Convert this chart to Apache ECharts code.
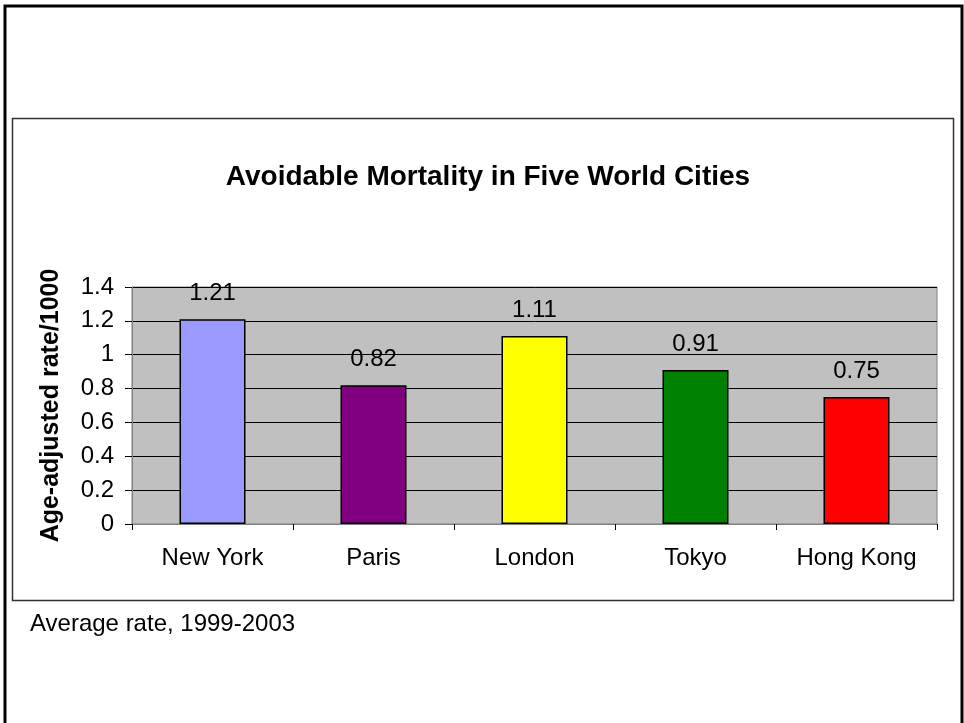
<!DOCTYPE html>
<html><head><meta charset="utf-8">
<script src="https://cdn.jsdelivr.net/npm/echarts@6/dist/echarts.min.js"></script>
<style>html,body{margin:0;padding:0;background:#fff}#c{width:964px;height:723px}</style>
</head><body><div id="c"></div>
<script>
const categories = ['New York', 'Paris', 'London', 'Tokyo', 'Hong Kong'];
const values = [1.21, 0.82, 1.11, 0.91, 0.75];
const barColors = ['#9999FF', '#800080', '#FFFF00', '#008000', '#FF0000'];
const yTicks = [0, 0.2, 0.4, 0.6, 0.8, 1, 1.2, 1.4];

const chart = echarts.init(document.getElementById('c'));
const font = 'Arial, "Liberation Sans", sans-serif';
chart.setOption({
  animation: false,
  backgroundColor: '#fff',
  title: {
    text: 'Avoidable Mortality in Five World Cities',
    left: 483, top: 158, textAlign: 'center',
    textStyle: { fontFamily: font, fontSize: 28, fontWeight: 'bold', color: '#000' }
  },
  graphic: [
    { type: 'rect', shape: { x: 5, y: 6, width: 957, height: 720 }, style: { fill: 'none', stroke: '#000', lineWidth: 3 }, z: 10 },
    { type: 'rect', shape: { x: 12.5, y: 118.5, width: 941, height: 482 }, style: { fill: 'none', stroke: '#333', lineWidth: 1.5 }, z: 10 },
    { type: 'text', left: 30, top: 612, style: { text: 'Average rate, 1999-2003', fontFamily: font, fontSize: 24, fill: '#000' } }
  ],
  grid: { left: 132, right: 27, top: 287, bottom: 199, show: true, backgroundColor: '#C0C0C0', borderColor: '#808080', borderWidth: 1 },
  xAxis: {
    type: 'category', data: categories,
    axisLine: { show: true, lineStyle: { color: '#808080' } },
    axisTick: { show: true, alignWithLabel: false, length: 6, lineStyle: { color: '#000' } },
    axisLabel: { fontFamily: font, fontSize: 24, color: '#000', margin: 22 }
  },
  yAxis: {
    type: 'value', min: 0, max: 1.4, interval: 0.2,
    name: 'Age-adjusted rate/1000', nameLocation: 'middle', nameGap: 68,
    nameTextStyle: { fontFamily: font, fontSize: 25, fontWeight: 'bold', color: '#000' },
    axisLine: { show: true, lineStyle: { color: '#808080' } },
    axisTick: { show: true, length: 7, lineStyle: { color: '#000' } },
    axisLabel: { fontFamily: font, fontSize: 24, color: '#000', margin: 18, formatter: v => String(+v.toFixed(1)) },
    splitLine: { show: true, lineStyle: { color: '#000', width: 1 } }
  },
  series: [{
    type: 'bar',
    data: values.map((v, i) => ({ value: v, itemStyle: { color: barColors[i] } })),
    barWidth: '41%',
    itemStyle: { borderColor: '#000', borderWidth: 1.5 },
    label: { show: true, position: 'top', distance: 14, fontFamily: font, fontSize: 24, color: '#000' }
  }]
});
</script></body></html>
